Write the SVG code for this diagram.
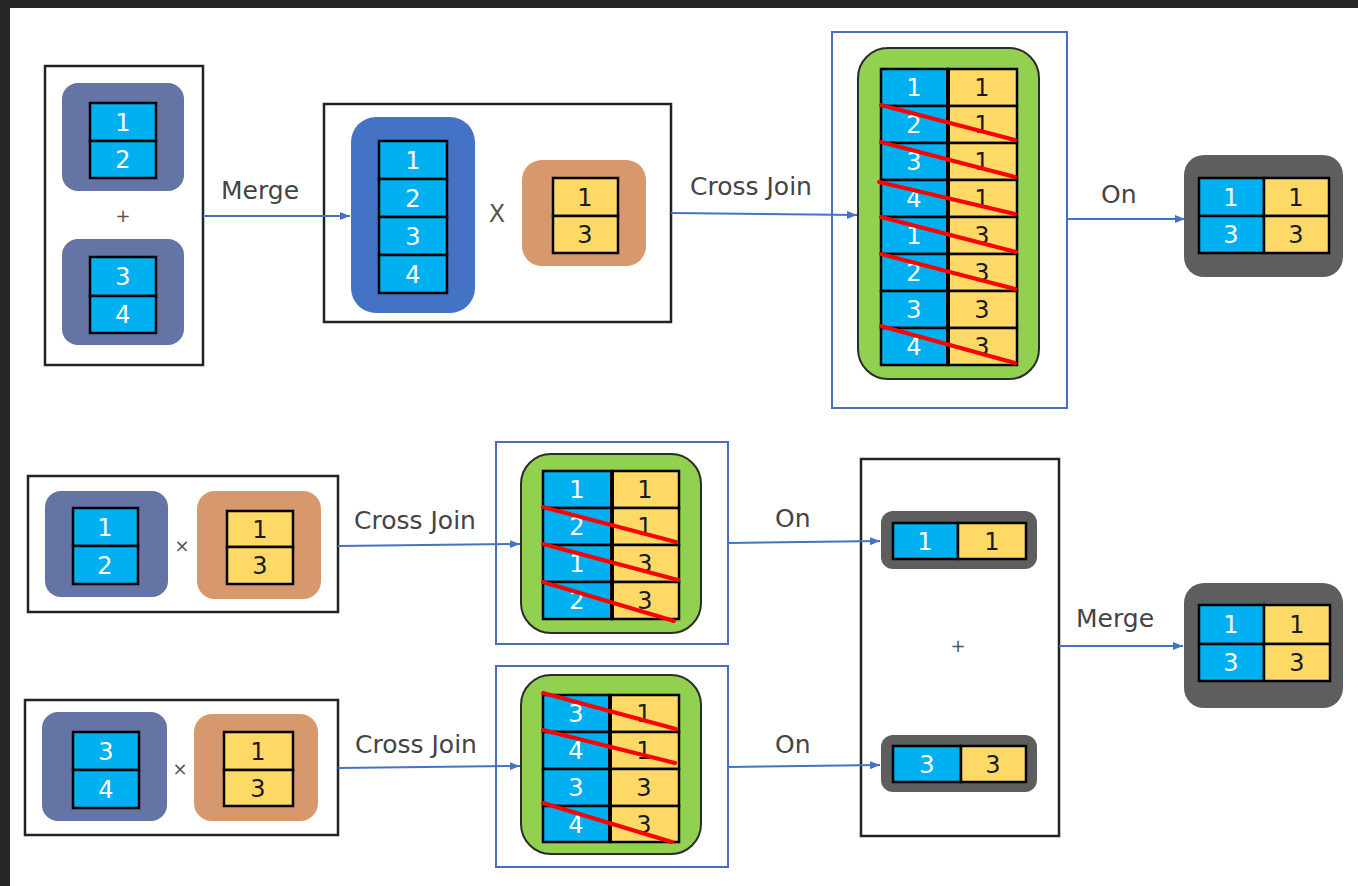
<svg xmlns="http://www.w3.org/2000/svg" width="1358" height="886" viewBox="0 0 1358 886">
<defs>
<style>
.bg{fill:#ffffff}
.band{fill:#262626}
.frame{fill:none;stroke:#222;stroke-width:2.5}
.bframe{fill:none;stroke:#4A6FB8;stroke-width:2}
.purple{fill:#6475A5}
.blue{fill:#4472C4}
.orange{fill:#D6986C}
.green{fill:#92D050;stroke:#2b2b2b;stroke-width:2}
.gray{fill:#5E5E5E}
.cb{fill:#00B0F0;stroke:#000;stroke-width:2.5}
.cy{fill:#FFD966;stroke:#000;stroke-width:2.5}
.div{stroke:#000;stroke-width:4}
.tw{font-family:"DejaVu Sans","Liberation Sans",sans-serif;font-size:24px;fill:#ffffff;text-anchor:middle}
.tk{font-family:"DejaVu Sans","Liberation Sans",sans-serif;font-size:24px;fill:#1a1a1a;text-anchor:middle}
.lbl{font-family:"DejaVu Sans","Liberation Sans",sans-serif;font-size:25px;fill:#444}
.op{font-family:"DejaVu Sans","Liberation Sans",sans-serif;fill:#555;text-anchor:middle}
.strike{stroke:#FF0000;stroke-width:4;stroke-linecap:round}
.conn{fill:none;stroke:#4472C4;stroke-width:2;marker-end:url(#ah)}
</style>
<marker id="ah" markerUnits="userSpaceOnUse" markerWidth="12" markerHeight="10" refX="10" refY="5" orient="auto">
<path d="M0,1 L10,5 L0,9 Z" fill="#4472C4"/>
</marker>
</defs>
<rect class="bg" x="0" y="0" width="1358" height="886"/>
<rect class="band" x="0" y="0" width="1358" height="8"/>
<rect class="band" x="0" y="0" width="10" height="886"/>

<g id="top-inputs">
<rect class="frame" x="45" y="66" width="158" height="299"/>
<rect class="purple" x="62" y="83" width="122" height="108" rx="16"/>
<rect class="cb" x="90" y="103" width="66" height="38"/>
<rect class="cb" x="90" y="141" width="66" height="37"/>
<text class="tw" x="123" y="131">1</text>
<text class="tw" x="123" y="168">2</text>
<text class="op" x="123" y="222" font-size="18">+</text>
<rect class="purple" x="62" y="239" width="122" height="106" rx="16"/>
<rect class="cb" x="90" y="257" width="66" height="39"/>
<rect class="cb" x="90" y="296" width="66" height="37"/>
<text class="tw" x="123" y="285">3</text>
<text class="tw" x="123" y="323">4</text>
</g>

<g id="top-merged">
<rect class="frame" x="324" y="104" width="347" height="218"/>
<rect class="blue" x="351" y="117" width="124" height="196" rx="25"/>
<rect class="cb" x="379" y="141" width="68" height="38"/>
<rect class="cb" x="379" y="179" width="68" height="38"/>
<rect class="cb" x="379" y="217" width="68" height="38"/>
<rect class="cb" x="379" y="255" width="68" height="38"/>
<text class="tw" x="413" y="169">1</text>
<text class="tw" x="413" y="207">2</text>
<text class="tw" x="413" y="245">3</text>
<text class="tw" x="413" y="283">4</text>
<text class="op" x="497" y="222" font-size="24">X</text>
<rect class="orange" x="522" y="160" width="124" height="106" rx="20"/>
<rect class="cy" x="553" y="178" width="65" height="38"/>
<rect class="cy" x="553" y="216" width="65" height="37"/>
<text class="tk" x="585" y="206">1</text>
<text class="tk" x="585" y="243">3</text>
</g>

<g id="top-crossjoin">
<rect class="bframe" x="832" y="32" width="235" height="376"/>
<rect class="green" x="858" y="48" width="181" height="331" rx="30"/>
<g>
<rect class="cb" x="881" y="69" width="67" height="37"/><rect class="cy" x="948" y="69" width="69" height="37"/>
<rect class="cb" x="881" y="106" width="67" height="37"/><rect class="cy" x="948" y="106" width="69" height="37"/>
<rect class="cb" x="881" y="143" width="67" height="37"/><rect class="cy" x="948" y="143" width="69" height="37"/>
<rect class="cb" x="881" y="180" width="67" height="37"/><rect class="cy" x="948" y="180" width="69" height="37"/>
<rect class="cb" x="881" y="217" width="67" height="37"/><rect class="cy" x="948" y="217" width="69" height="37"/>
<rect class="cb" x="881" y="254" width="67" height="37"/><rect class="cy" x="948" y="254" width="69" height="37"/>
<rect class="cb" x="881" y="291" width="67" height="37"/><rect class="cy" x="948" y="291" width="69" height="37"/>
<rect class="cb" x="881" y="328" width="67" height="37"/><rect class="cy" x="948" y="328" width="69" height="37"/>
<line class="div" x1="948" y1="69" x2="948" y2="365"/>
</g>
<text class="tw" x="914" y="96">1</text><text class="tk" x="982" y="96">1</text>
<text class="tw" x="914" y="133">2</text><text class="tk" x="982" y="133">1</text>
<text class="tw" x="914" y="170">3</text><text class="tk" x="982" y="170">1</text>
<text class="tw" x="914" y="207">4</text><text class="tk" x="982" y="207">1</text>
<text class="tw" x="914" y="244">1</text><text class="tk" x="982" y="244">3</text>
<text class="tw" x="914" y="281">2</text><text class="tk" x="982" y="281">3</text>
<text class="tw" x="914" y="318">3</text><text class="tk" x="982" y="318">3</text>
<text class="tw" x="914" y="355">4</text><text class="tk" x="982" y="355">3</text>
<line class="strike" x1="881" y1="105" x2="1015" y2="140"/>
<line class="strike" x1="881" y1="142" x2="1015" y2="177"/>
<line class="strike" x1="879" y1="182" x2="1015" y2="214"/>
<line class="strike" x1="881" y1="217" x2="1016" y2="252"/>
<line class="strike" x1="881" y1="254" x2="1015" y2="289"/>
<line class="strike" x1="881" y1="326" x2="1015" y2="363"/>
</g>

<g id="top-result">
<rect class="gray" x="1184" y="155" width="159" height="122" rx="20"/>
<rect class="cb" x="1199" y="178" width="65" height="38"/><rect class="cy" x="1264" y="178" width="65" height="38"/>
<rect class="cb" x="1199" y="216" width="65" height="37"/><rect class="cy" x="1264" y="216" width="65" height="37"/>
<text class="tw" x="1231" y="206">1</text><text class="tk" x="1296" y="206">1</text>
<text class="tw" x="1231" y="243">3</text><text class="tk" x="1296" y="243">3</text>
</g>

<g id="b1-inputs">
<rect class="frame" x="28" y="476" width="310" height="136"/>
<rect class="purple" x="45" y="491" width="123" height="106" rx="16"/>
<rect class="cb" x="73" y="508" width="65" height="38"/>
<rect class="cb" x="73" y="546" width="65" height="38"/>
<text class="tw" x="105" y="536">1</text>
<text class="tw" x="105" y="574">2</text>
<text class="op" x="182" y="552" font-size="18">×</text>
<rect class="orange" x="197" y="491" width="124" height="108" rx="18"/>
<rect class="cy" x="227" y="511" width="66" height="36"/>
<rect class="cy" x="227" y="547" width="66" height="37"/>
<text class="tk" x="260" y="538">1</text>
<text class="tk" x="260" y="574">3</text>
</g>

<g id="b1-crossjoin">
<rect class="bframe" x="496" y="442" width="232" height="202"/>
<rect class="green" x="521" y="454" width="180" height="179" rx="30"/>
<rect class="cb" x="543" y="471" width="69" height="37"/><rect class="cy" x="612" y="471" width="67" height="37"/>
<rect class="cb" x="543" y="508" width="69" height="37"/><rect class="cy" x="612" y="508" width="67" height="37"/>
<rect class="cb" x="543" y="545" width="69" height="37"/><rect class="cy" x="612" y="545" width="67" height="37"/>
<rect class="cb" x="543" y="582" width="69" height="37"/><rect class="cy" x="612" y="582" width="67" height="37"/>
<line class="div" x1="612" y1="471" x2="612" y2="619"/>
<text class="tw" x="577" y="498">1</text><text class="tk" x="645" y="498">1</text>
<text class="tw" x="577" y="535">2</text><text class="tk" x="645" y="535">1</text>
<text class="tw" x="577" y="572">1</text><text class="tk" x="645" y="572">3</text>
<text class="tw" x="577" y="609">2</text><text class="tk" x="645" y="609">3</text>
<line class="strike" x1="543" y1="507" x2="676" y2="542"/>
<line class="strike" x1="543" y1="544" x2="678" y2="580"/>
<line class="strike" x1="543" y1="582" x2="674" y2="621"/>
</g>

<g id="b2-inputs">
<rect class="frame" x="25" y="700" width="313" height="135"/>
<rect class="purple" x="42" y="712" width="125" height="109" rx="16"/>
<rect class="cb" x="73" y="732" width="66" height="38"/>
<rect class="cb" x="73" y="770" width="66" height="38"/>
<text class="tw" x="106" y="760">3</text>
<text class="tw" x="106" y="798">4</text>
<text class="op" x="180" y="775" font-size="18">×</text>
<rect class="orange" x="194" y="714" width="124" height="107" rx="18"/>
<rect class="cy" x="224" y="732" width="69" height="38"/>
<rect class="cy" x="224" y="770" width="69" height="36"/>
<text class="tk" x="258" y="760">1</text>
<text class="tk" x="258" y="797">3</text>
</g>

<g id="b2-crossjoin">
<rect class="bframe" x="496" y="666" width="232" height="201"/>
<rect class="green" x="521" y="675" width="180" height="179" rx="30"/>
<rect class="cb" x="543" y="695" width="67" height="37"/><rect class="cy" x="610" y="695" width="69" height="37"/>
<rect class="cb" x="543" y="732" width="67" height="37"/><rect class="cy" x="610" y="732" width="69" height="37"/>
<rect class="cb" x="543" y="769" width="67" height="37"/><rect class="cy" x="610" y="769" width="69" height="37"/>
<rect class="cb" x="543" y="806" width="67" height="36"/><rect class="cy" x="610" y="806" width="69" height="36"/>
<line class="div" x1="610" y1="695" x2="610" y2="842"/>
<text class="tw" x="576" y="722">3</text><text class="tk" x="644" y="722">1</text>
<text class="tw" x="576" y="759">4</text><text class="tk" x="644" y="759">1</text>
<text class="tw" x="576" y="796">3</text><text class="tk" x="644" y="796">3</text>
<text class="tw" x="576" y="833">4</text><text class="tk" x="644" y="833">3</text>
<line class="strike" x1="543" y1="693" x2="676" y2="729"/>
<line class="strike" x1="543" y1="730" x2="675" y2="763"/>
<line class="strike" x1="543" y1="803" x2="672" y2="842"/>
</g>

<g id="b-union">
<rect class="frame" x="861" y="459" width="198" height="377"/>
<rect class="gray" x="881" y="511" width="156" height="58" rx="12"/>
<rect class="cb" x="893" y="523" width="65" height="36"/><rect class="cy" x="958" y="523" width="68" height="36"/>
<text class="tw" x="925" y="550">1</text><text class="tk" x="992" y="550">1</text>
<text class="op" x="958" y="652" font-size="18">+</text>
<rect class="gray" x="881" y="735" width="156" height="57" rx="12"/>
<rect class="cb" x="893" y="746" width="68" height="36"/><rect class="cy" x="961" y="746" width="65" height="36"/>
<text class="tw" x="927" y="773">3</text><text class="tk" x="993" y="773">3</text>
</g>

<g id="b-result">
<rect class="gray" x="1184" y="583" width="159" height="125" rx="20"/>
<rect class="cb" x="1199" y="605" width="65" height="39"/><rect class="cy" x="1264" y="605" width="66" height="39"/>
<rect class="cb" x="1199" y="644" width="65" height="37"/><rect class="cy" x="1264" y="644" width="66" height="37"/>
<text class="tw" x="1231" y="633">1</text><text class="tk" x="1297" y="633">1</text>
<text class="tw" x="1231" y="671">3</text><text class="tk" x="1297" y="671">3</text>
</g>

<g id="connectors">
<line class="conn" x1="203" y1="216" x2="350" y2="216"/>
<text class="lbl" x="221" y="199">Merge</text>
<line class="conn" x1="671" y1="213" x2="857" y2="215"/>
<text class="lbl" x="690" y="195">Cross Join</text>
<line class="conn" x1="1067" y1="219" x2="1185" y2="219"/>
<text class="lbl" x="1101" y="203">On</text>
<line class="conn" x1="338" y1="546" x2="520" y2="544"/>
<text class="lbl" x="354" y="529">Cross Join</text>
<line class="conn" x1="728" y1="543" x2="880" y2="541"/>
<text class="lbl" x="775" y="527">On</text>
<line class="conn" x1="338" y1="768" x2="520" y2="766"/>
<text class="lbl" x="355" y="753">Cross Join</text>
<line class="conn" x1="728" y1="767" x2="880" y2="765"/>
<text class="lbl" x="775" y="753">On</text>
<line class="conn" x1="1059" y1="646" x2="1183" y2="646"/>
<text class="lbl" x="1076" y="627">Merge</text>
</g>
</svg>
